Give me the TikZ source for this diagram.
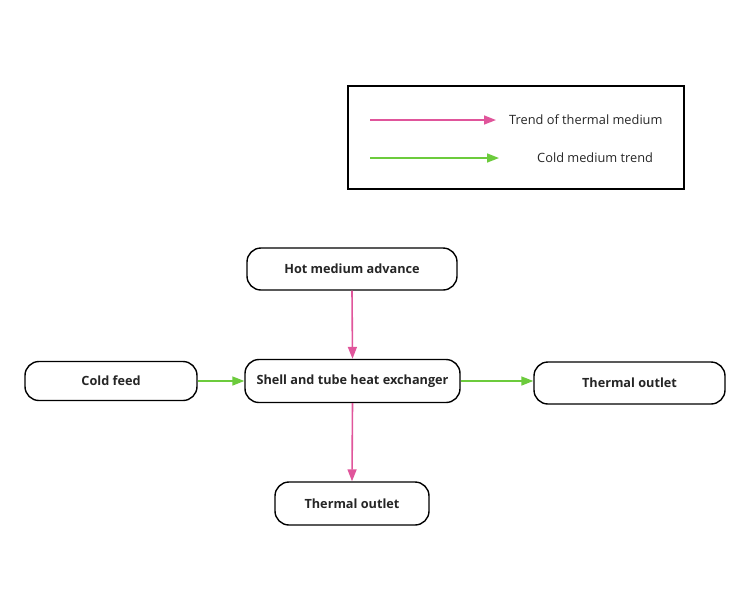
\documentclass[tikz,border=0pt]{standalone}
\usepackage{fontspec}
\setmainfont{Open Sans}
\usetikzlibrary{arrows.meta}
\definecolor{hotc}{HTML}{E0559B}
\definecolor{coldc}{HTML}{6CCB3C}
\tikzset{
  pill/.style={draw=black, line width=1.4pt, rounded corners=14pt, fill=white,
    inner sep=0pt, font=\bfseries\fontsize{12.7}{14}\selectfont, text=black!85},
  hotarrow/.style={draw=hotc, line width=1.6pt, -{Triangle[length=12pt,width=9pt]}},
  coldarrow/.style={draw=coldc, line width=1.6pt, -{Triangle[length=12pt,width=9pt]}},
  legtext/.style={font=\fontsize{12.8}{14}\selectfont, text=black!85, inner sep=0pt}
}
\begin{document}
\begin{tikzpicture}[x=1pt,y=-1pt]
\useasboundingbox (0,0) rectangle (750,590);
% legend
\node[draw=black, line width=1.4pt, minimum width=336pt, minimum height=103pt, inner sep=0pt] (legend) at (516,137.5) {};
\coordinate (ha) at (370,120);
\coordinate (hb) at (496,120);
\coordinate (ca) at (370,158);
\coordinate (cb) at (499,158);
\draw[hotarrow] (ha) -- (hb);
\draw[coldarrow] (ca) -- (cb);
\node[legtext, anchor=west] (lt1) at (509,120) {Trend of thermal medium};
\node[legtext, anchor=west] (lt2) at (537,158) {Cold medium trend};
% nodes
\node[pill, minimum width=210pt, minimum height=42pt] (hot) at (352,269) {Hot medium advance};
\node[pill, minimum width=215pt, minimum height=43pt] (shell) at (352.5,381) {Shell and tube heat exchanger};
\node[pill, minimum width=172pt, minimum height=39pt] (cold) at (111,381) {Cold feed};
\node[pill, minimum width=191pt, minimum height=42pt] (outr) at (629.5,383) {Thermal outlet};
\node[pill, minimum width=154pt, minimum height=43pt] (outb) at (352,503.5) {Thermal outlet};
% connectors
\draw[hotarrow] (hot.south) -- (shell.north);
\draw[hotarrow] (shell.south) -- (outb.north);
\draw[coldarrow] (cold.east) -- (shell.west);
\draw[coldarrow] (shell.east) -- (outr.west |- shell.east);
\end{tikzpicture}
\end{document}
